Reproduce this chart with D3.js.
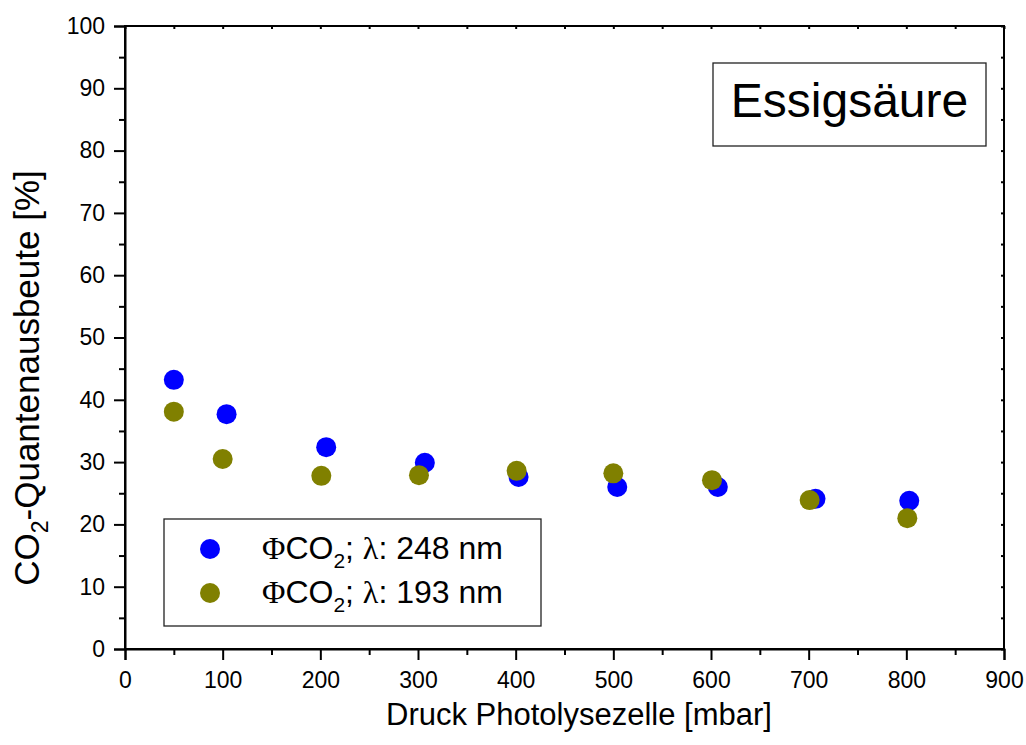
<!DOCTYPE html>
<html>
<head>
<meta charset="utf-8">
<script src="https://cdn.jsdelivr.net/npm/d3@7/dist/d3.min.js"></script>
<style>
  html, body { margin: 0; padding: 0; background: #fff; }
  svg { display: block; font-family: "Liberation Sans", Arial, sans-serif; }
</style>
</head>
<body>
<svg id="chart" width="1026" height="745"></svg>
<script>
// Pressure in the photolysis cell [mbar] and CO2 quantum yield [%]
const pressure248 = [50, 104, 206, 307, 403, 504, 607, 707, 803];
const yield248    = [43.2, 37.7, 32.4, 29.9, 27.6, 26.0, 26.0, 24.1, 23.8];
const pressure193 = [50, 100, 201, 301, 401, 500, 601, 701, 801];
const yield193    = [38.1, 30.5, 27.8, 27.9, 28.6, 28.2, 27.1, 23.9, 21.0];

const xTicks = [0, 100, 200, 300, 400, 500, 600, 700, 800, 900];
const yTicks = [0, 10, 20, 30, 40, 50, 60, 70, 80, 90, 100];
const xMinor = [50, 150, 250, 350, 450, 550, 650, 750, 850];
const yMinor = [5, 15, 25, 35, 45, 55, 65, 75, 85, 95];

const seriesNames = ["248 nm", "193 nm"];
const seriesColors = ["#0000ff", "#808000"];
const title = "Essigsäure";

const svg = d3.select("#chart");
const plotL = 125, plotR = 1004, plotT = 26, plotB = 649;

const x = d3.scaleLinear().domain([0, 900]).range([plotL, plotR]);
const y = d3.scaleLinear().domain([0, 100]).range([plotB, plotT]);

const axisStroke = 2;
const sans = "Liberation Sans, Arial, sans-serif";
const serif = "Liberation Serif, Times New Roman, serif";

// frame
svg.append("rect")
  .attr("x", plotL).attr("y", plotT)
  .attr("width", plotR - plotL).attr("height", plotB - plotT)
  .attr("fill", "none").attr("stroke", "#000").attr("stroke-width", axisStroke);

// bottom axis
const xAxis = svg.append("g").attr("transform", `translate(0,${plotB})`)
  .call(d3.axisBottom(x).tickValues(xTicks).tickSize(11).tickPadding(12).tickFormat(d3.format("d")));
xAxis.select(".domain").attr("stroke-width", axisStroke);
xAxis.selectAll(".tick line").attr("stroke-width", axisStroke);
xAxis.selectAll(".tick text").attr("font-size", 23).attr("font-family", sans).attr("fill", "#000");
svg.append("g").attr("transform", `translate(0,${plotB})`)
  .call(d3.axisBottom(x).tickValues(xMinor).tickSize(6).tickFormat(""))
  .call(g => g.select(".domain").remove())
  .selectAll(".tick line").attr("stroke-width", axisStroke);

// left axis
const yAxis = svg.append("g").attr("transform", `translate(${plotL},0)`)
  .call(d3.axisLeft(y).tickValues(yTicks).tickSize(11).tickPadding(9).tickFormat(d3.format("d")));
yAxis.select(".domain").attr("stroke-width", axisStroke);
yAxis.selectAll(".tick line").attr("stroke-width", axisStroke);
yAxis.selectAll(".tick text").attr("font-size", 23).attr("font-family", sans).attr("fill", "#000");
svg.append("g").attr("transform", `translate(${plotL},0)`)
  .call(d3.axisLeft(y).tickValues(yMinor).tickSize(6).tickFormat(""))
  .call(g => g.select(".domain").remove())
  .selectAll(".tick line").attr("stroke-width", axisStroke);

// small inward ticks on top and right edges
svg.append("g").attr("transform", `translate(0,${plotT})`)
  .call(d3.axisTop(x).tickValues(xTicks.concat(xMinor)).tickSize(-3).tickFormat(""))
  .call(g => g.select(".domain").remove())
  .selectAll(".tick line").attr("stroke-width", axisStroke);
svg.append("g").attr("transform", `translate(${plotR},0)`)
  .call(d3.axisRight(y).tickValues(yTicks.concat(yMinor)).tickSize(-3).tickFormat(""))
  .call(g => g.select(".domain").remove())
  .selectAll(".tick line").attr("stroke-width", axisStroke);

// axis titles
svg.append("text")
  .attr("x", 579).attr("y", 725)
  .attr("text-anchor", "middle")
  .attr("font-size", 31)
  .text("Druck Photolysezelle [mbar]");

const yTitle = svg.append("text")
  .attr("transform", "translate(39,378) rotate(-90)")
  .attr("text-anchor", "middle")
  .attr("font-size", 35);
yTitle.append("tspan").text("CO");
yTitle.append("tspan").attr("font-size", 23).attr("dy", 9).text("2");
yTitle.append("tspan").attr("dy", -9).text("-Quantenausbeute [%]");

// data points
const r = 10;
svg.append("g").selectAll("circle")
  .data(pressure248.map((p, i) => [p, yield248[i]]))
  .join("circle")
  .attr("cx", d => x(d[0])).attr("cy", d => y(d[1])).attr("r", r)
  .attr("fill", seriesColors[0]);
svg.append("g").selectAll("circle")
  .data(pressure193.map((p, i) => [p, yield193[i]]))
  .join("circle")
  .attr("cx", d => x(d[0])).attr("cy", d => y(d[1])).attr("r", r)
  .attr("fill", seriesColors[1]);

// title box
svg.append("rect")
  .attr("x", 713).attr("y", 63).attr("width", 273).attr("height", 83)
  .attr("fill", "#fff").attr("stroke", "#222").attr("stroke-width", 1.3);
svg.append("text")
  .attr("x", 849.5).attr("y", 117)
  .attr("text-anchor", "middle")
  .attr("font-size", 48)
  .text(title);

// legend
svg.append("rect")
  .attr("x", 164).attr("y", 519).attr("width", 377).attr("height", 107)
  .attr("fill", "#fff").attr("stroke", "#222").attr("stroke-width", 1.3);
const rowY = [549, 593];
seriesNames.forEach((name, i) => {
  svg.append("circle")
    .attr("cx", 210).attr("cy", rowY[i]).attr("r", r)
    .attr("fill", seriesColors[i]);
  const t = svg.append("text")
    .attr("x", 262).attr("y", rowY[i] + 10)
    .attr("font-size", 32);
  t.append("tspan").attr("font-family", serif).text("Φ");
  t.append("tspan").text("CO");
  t.append("tspan").attr("font-size", 21).attr("dy", 9).text("2");
  t.append("tspan").attr("dy", -9).text("; ");
  t.append("tspan").attr("font-family", serif).text("λ");
  t.append("tspan").text(": " + name);
});
</script>
</body>
</html>
